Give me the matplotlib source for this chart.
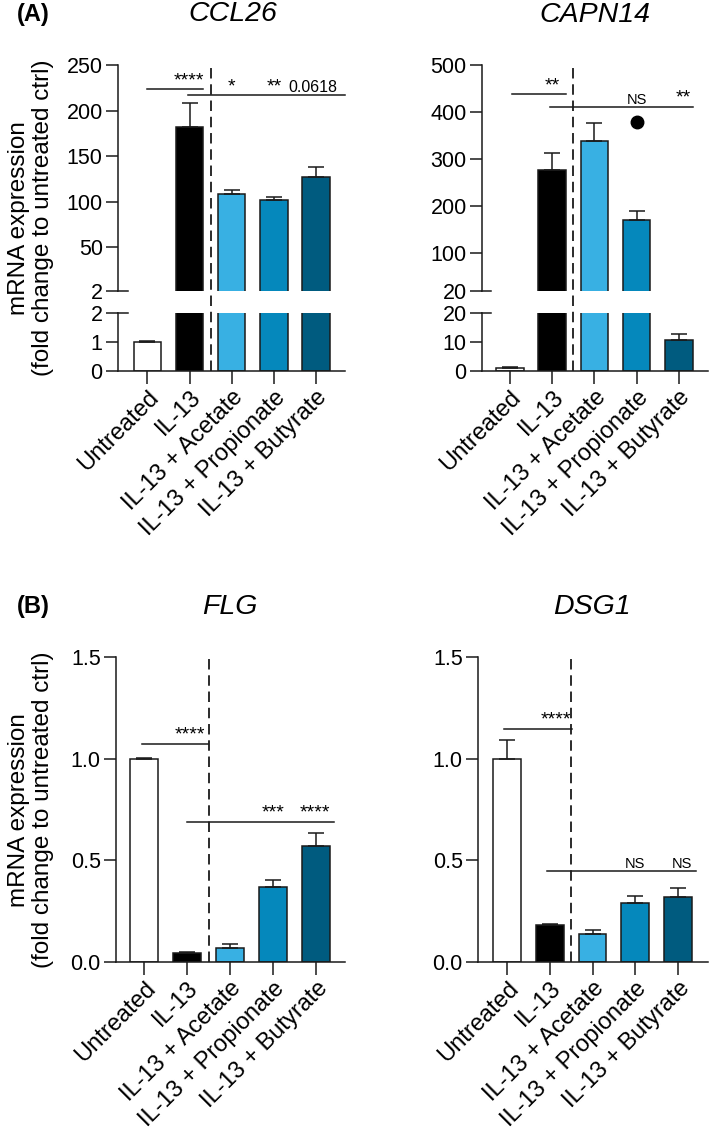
import matplotlib
matplotlib.use("Agg")
import matplotlib.pyplot as plt
from matplotlib import transforms
from matplotlib.lines import Line2D

plt.rcParams['font.family'] = ['Liberation Sans', 'DejaVu Sans']

groups = ["Untreated", "IL-13", "IL-13 + Acetate", "IL-13 + Propionate", "IL-13 + Butyrate"]
colors = ['white', 'black', '#38B0E3', '#0588BC', '#005B7F']

ccl26_mean = [1.0, 181.5, 108.5, 102.0, 127.5]
ccl26_err = [0.04, 27.0, 4.5, 3.0, 11.0]
capn14_mean = [1.0, 277.0, 338.0, 171.0, 10.7]
capn14_err = [0.4, 37.0, 39.0, 18.0, 2.1]
flg_mean = [1.0, 0.044, 0.069, 0.37, 0.57]
flg_err = [0.004, 0.004, 0.018, 0.035, 0.065]
dsg1_mean = [1.0, 0.184, 0.138, 0.29, 0.32]
dsg1_err = [0.09, 0.004, 0.017, 0.035, 0.045]

W, H = 709, 1135
INK = '#1a1a1a'
LW = 1.1
fig = plt.figure(figsize=(W / 100, H / 100), dpi=100)


def rect(l, r, t, b):
    return [l / W, 1 - b / H, (r - l) / W, (b - t) / H]


def style(ax):
    for s in ['top', 'right']:
        ax.spines[s].set_visible(False)
    for s in ['left', 'bottom']:
        ax.spines[s].set_linewidth(LW)
        ax.spines[s].set_color(INK)
    ax.tick_params(axis='both', width=LW, length=9, labelsize=15.5, color=INK, labelcolor='black', pad=2)


def draw_bars(ax, means, errs, lo=None, hi=None):
    x = list(range(len(means)))
    ax.bar(x, means, width=0.65, color=colors, edgecolor=INK, linewidth=LW, zorder=2)
    # only the error bars whose whole span is inside this axes
    keep = [i for i in x
            if (lo is None or means[i] > lo) and (hi is None or means[i] + errs[i] < hi)]
    if keep:
        ax.errorbar([x[i] for i in keep], [means[i] for i in keep],
                    yerr=[[0] * len(keep), [errs[i] for i in keep]], fmt='none', ecolor=INK,
                    elinewidth=LW, capsize=5.5, capthick=LW, zorder=3)


def xlabels(ax):
    ax.set_xticks(range(len(groups)))
    ax.set_xticklabels(groups, rotation=45, ha='right', va='center', rotation_mode='anchor', fontsize=17)
    for lab in ax.get_xticklabels():
        lab.set_transform(lab.get_transform() + transforms.ScaledTranslation(8 / 100, -8 / 100, fig.dpi_scale_trans))


def vdash(ax_top, ax_bot, xv):
    tr = transforms.blended_transform_factory(ax_top.transData, fig.transFigure)
    y0 = ax_bot.get_position().y0
    y1 = ax_top.get_position().y1
    fig.add_artist(Line2D([xv, xv], [y0, y1], transform=tr, color=INK, lw=1.3,
                          linestyle=(0, (5.8, 3.2))))


def sig_line(ax, x0, x1, y):
    ax.plot([x0, x1], [y, y], color=INK, lw=LW, clip_on=False, zorder=4)


def sig_text(ax, x, y, s, size=14, ha='center'):
    ax.text(x, y, s, ha=ha, va='bottom', fontsize=size, color='black', clip_on=False)


def broken_panel(l, r, means, errs, up_lim, up_ticks, lo_lim, lo_ticks, xlim):
    up = fig.add_axes(rect(l, r, 65, 291))
    lo = fig.add_axes(rect(l, r, 313, 371))
    draw_bars(up, means, errs, lo=up_lim[0])
    draw_bars(lo, means, errs, hi=lo_lim[1])
    for ax in (up, lo):
        style(ax)
        ax.set_xlim(xlim)
    up.set_ylim(up_lim)
    up.set_yticks(up_ticks)
    up.spines['bottom'].set_visible(False)
    up.set_xticks([])
    lo.set_ylim(lo_lim)
    lo.set_yticks(lo_ticks)
    xlabels(lo)
    # break marks crossing the spine
    for ax, yv in ((up, up_lim[0]), (lo, lo_lim[1])):
        ax.plot([0, 0.042], [yv, yv], transform=ax.get_yaxis_transform(), color=INK, lw=LW, clip_on=False)
    vdash(up, lo, 1.5)
    return up, lo


# (A) CCL26
up, lo = broken_panel(118, 345, ccl26_mean, ccl26_err, (2, 250), [2, 50, 100, 150, 200, 250],
                      (0, 2), [0, 1, 2], (-0.70, 4.69))
sig_line(up, 0.0, 1.32, 223.5)
sig_text(up, 1.34, 223.5, "****", ha='right')
sig_line(up, 0.96, 4.7, 217)
sig_text(up, 2.0, 217, "*")
sig_text(up, 3.0, 217, "**")
sig_text(up, 3.93, 217, "0.0618", size=11.5)

# (A) CAPN14
up, lo = broken_panel(482, 708, capn14_mean, capn14_err, (20, 500), [20, 100, 200, 300, 400, 500],
                      (0, 20), [0, 10, 20], (-0.66, 4.69))
sig_line(up, 0.05, 1.33, 438)
sig_text(up, 1.0, 438, "**")
sig_line(up, 0.95, 4.33, 411)
sig_text(up, 3.0, 411, "NS", size=10.5)
sig_text(up, 4.1, 411, "**")
up.plot([3], [379], 'o', color='black', markersize=9, clip_on=False, zorder=5)


def plain_panel(l, r, means, errs, xlim):
    ax = fig.add_axes(rect(l, r, 657, 962))
    draw_bars(ax, means, errs)
    style(ax)
    ax.set_xlim(xlim)
    ax.set_ylim(0, 1.5)
    ax.set_yticks([0, 0.5, 1.0, 1.5])
    ax.set_yticklabels(["0.0", "0.5", "1.0", "1.5"])
    xlabels(ax)
    vdash(ax, ax, 1.5)
    return ax


# (B) FLG
ax = plain_panel(116, 345, flg_mean, flg_err, (-0.65, 4.67))
sig_line(ax, -0.05, 1.49, 1.074)
sig_text(ax, 1.42, 1.074, "****", ha='right')
sig_line(ax, 1.0, 4.42, 0.69)
sig_text(ax, 3.0, 0.69, "***")
sig_text(ax, 3.98, 0.69, "****")

# (B) DSG1
ax = plain_panel(478, 708, dsg1_mean, dsg1_err, (-0.68, 4.70))
sig_line(ax, -0.07, 1.52, 1.148)
sig_text(ax, 1.5, 1.148, "****", ha='right')
sig_line(ax, 0.93, 4.43, 0.448)
sig_text(ax, 3.0, 0.448, "NS", size=10.5)
sig_text(ax, 4.1, 0.448, "NS", size=10.5)

# titles, panel letters, y labels
ylab = "mRNA expression\n(fold change to untreated ctrl)"
for cy in (218, 810):
    fig.text(31 / W, 1 - cy / H, ylab, rotation=90, ha='center', va='center',
             multialignment='center', fontsize=17.5, linespacing=1.1)
fig.text(17 / W, 1 - 15 / H, "(A)", fontsize=17, fontweight='bold', va='center', ha='left')
fig.text(17 / W, 1 - 607 / H, "(B)", fontsize=17, fontweight='bold', va='center', ha='left')
fig.text(233 / W, 1 - 14 / H, "CCL26", fontsize=20.5, style='italic', ha='center', va='center')
fig.text(595 / W, 1 - 15 / H, "CAPN14", fontsize=20.5, style='italic', ha='center', va='center')
fig.text(230 / W, 1 - 607 / H, "FLG", fontsize=20.5, style='italic', ha='center', va='center')
fig.text(592 / W, 1 - 607 / H, "DSG1", fontsize=20.5, style='italic', ha='center', va='center')

fig.savefig("out.png", dpi=100)
